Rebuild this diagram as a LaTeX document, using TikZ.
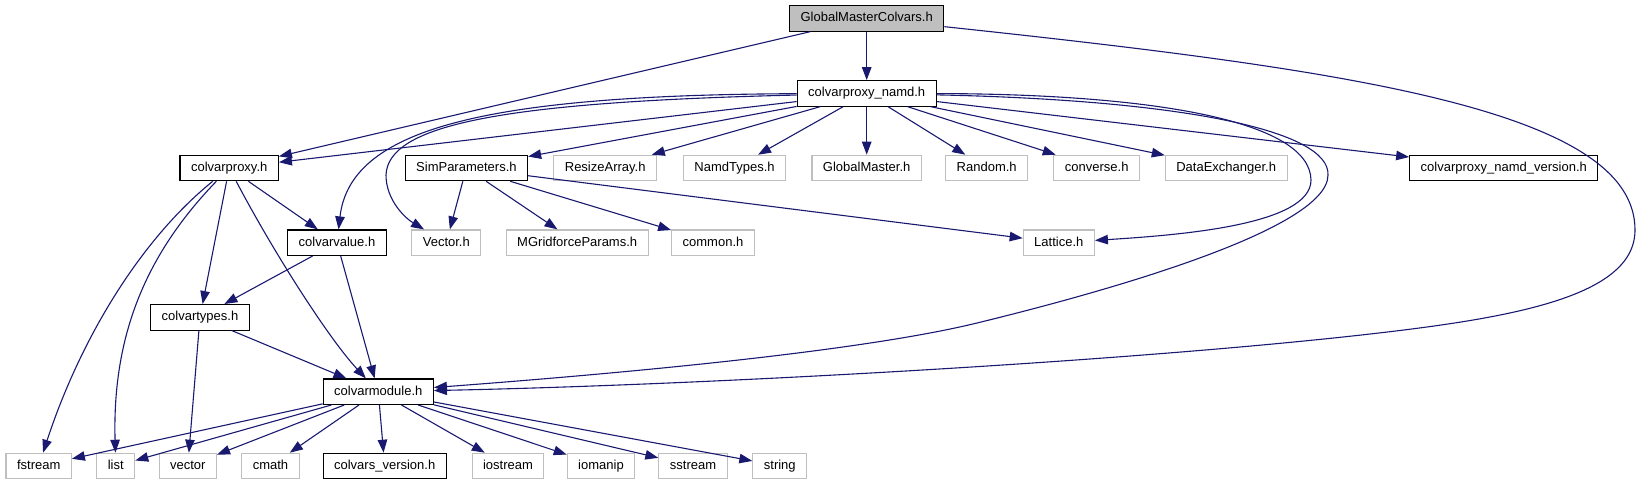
\documentclass[tikz,border=0pt]{standalone}
\usepackage{fontspec}
\setmainfont{Liberation Sans}
\usetikzlibrary{arrows.meta}
\definecolor{edgec}{HTML}{191970}
\definecolor{greyb}{HTML}{BFBFBF}
\begin{document}
\begin{tikzpicture}[x=1pt,y=-1pt,
 box/.style={draw=black,line width=1.1pt,fill=white,font=\fontsize{13}{15}\selectfont,inner xsep=11pt,inner ysep=0pt,minimum height=25.5pt,text height=9.6pt,text depth=2.9pt},
 gbox/.style={box,draw=greyb},
 root/.style={box,fill=greyb},
 dep/.style={draw=edgec,line width=1.1pt,-{Triangle[length=13pt,width=9.5pt]}},
]
\useasboundingbox (0,0) rectangle (1645,485);
\node[root] (gmc) at (866.7,18.4) {GlobalMasterColvars.h};
\node[box] (namd) at (866.7,93.4) {colvarproxy\_namd.h};
\node[box] (proxy) at (229.2,168) {colvarproxy.h};
\node[box] (simp) at (466.4,168) {SimParameters.h};
\node[gbox] (resize) at (605.2,168) {ResizeArray.h};
\node[gbox] (namdt) at (734.5,168) {NamdTypes.h};
\node[gbox] (gm) at (866.7,168) {GlobalMaster.h};
\node[gbox] (random) at (986.7,168) {Random.h};
\node[gbox] (conv) at (1096.7,168) {converse.h};
\node[gbox] (dex) at (1226.2,168) {DataExchanger.h};
\node[box] (ver) at (1503.8,168) {colvarproxy\_namd\_version.h};
\node[box] (cvalue) at (337,242.7) {colvarvalue.h};
\node[gbox] (vec) at (446.3,242.7) {Vector.h};
\node[gbox] (mgrid) at (577.2,242.7) {MGridforceParams.h};
\node[gbox] (common) at (713,242.7) {common.h};
\node[gbox] (lattice) at (1058.8,242.7) {Lattice.h};
\node[box] (ctypes) at (200,317.3) {colvartypes.h};
\node[box] (cmod) at (378.3,391.7) {colvarmodule.h};
\node[gbox] (fstream) at (38.7,466) {fstream};
\node[gbox] (list) at (115.8,466) {list};
\node[gbox] (vector) at (187.8,466) {vector};
\node[gbox] (cmath) at (270.5,466) {cmath};
\node[box] (cver) at (384.7,466) {colvars\_version.h};
\node[gbox] (iostream) at (508,466) {iostream};
\node[gbox] (iomanip) at (601,466) {iomanip};
\node[gbox] (sstream) at (693,466) {sstream};
\node[gbox] (string) at (779.8,466) {string};
% GlobalMasterColvars.h
\draw[dep] (gmc) -- (namd);
\draw[dep] (gmc) -- (proxy);
\draw[dep] (gmc) .. controls (1350,70) and (1635,110) .. (1635,230) .. controls (1635,300) and (1500,320) .. (1343,337) .. controls (1100,363) and (700,385) .. (cmod);
% colvarproxy_namd.h
\draw[dep] (namd) -- (proxy);
\draw[dep] (namd) .. controls (480,95) and (350,130) .. (cvalue);
\draw[dep] (namd) .. controls (500,102) and (388,125) .. (386,175) .. controls (386,200) and (405,218) .. (vec);
\draw[dep] (namd) -- (simp);
\draw[dep] (namd) -- (resize);
\draw[dep] (namd) -- (namdt);
\draw[dep] (namd) -- (gm);
\draw[dep] (namd) -- (random);
\draw[dep] (namd) -- (conv);
\draw[dep] (namd) -- (dex);
\draw[dep] (namd) -- (ver);
\draw[dep] (namd) .. controls (1150,94) and (1310,120) .. (1311,180) .. controls (1311,225) and (1180,235) .. (lattice);
\draw[dep] (namd) .. controls (1180,100) and (1330,130) .. (1328,175) .. controls (1328,230) and (1100,293) .. (977,323) .. controls (854,353) and (600,375) .. (cmod);
% SimParameters.h
\draw[dep] (simp) -- (vec);
\draw[dep] (simp) -- (mgrid);
\draw[dep] (simp) -- (common);
\draw[dep] (simp) -- (lattice);
% colvarproxy.h
\draw[dep] (proxy) .. controls (140,240) and (80,340) .. (fstream);
\draw[dep] (proxy) .. controls (150,250) and (112,330) .. (list);
\draw[dep] (proxy) -- (ctypes);
\draw[dep] (proxy) .. controls (275,255) and (330,340) .. (cmod);
\draw[dep] (proxy) -- (cvalue);
% colvarvalue.h
\draw[dep] (cvalue) -- (ctypes);
\draw[dep] (cvalue) -- (cmod);
% colvartypes.h
\draw[dep] (ctypes) -- (cmod);
\draw[dep] (ctypes) -- (vector);
% colvarmodule.h
\draw[dep] (cmod) -- (fstream);
\draw[dep] (cmod) -- (list);
\draw[dep] (cmod) -- (vector);
\draw[dep] (cmod) -- (cmath);
\draw[dep] (cmod) -- (cver);
\draw[dep] (cmod) -- (iostream);
\draw[dep] (cmod) -- (iomanip);
\draw[dep] (cmod) -- (sstream);
\draw[dep] (cmod) -- (string);
\end{tikzpicture}
\end{document}
